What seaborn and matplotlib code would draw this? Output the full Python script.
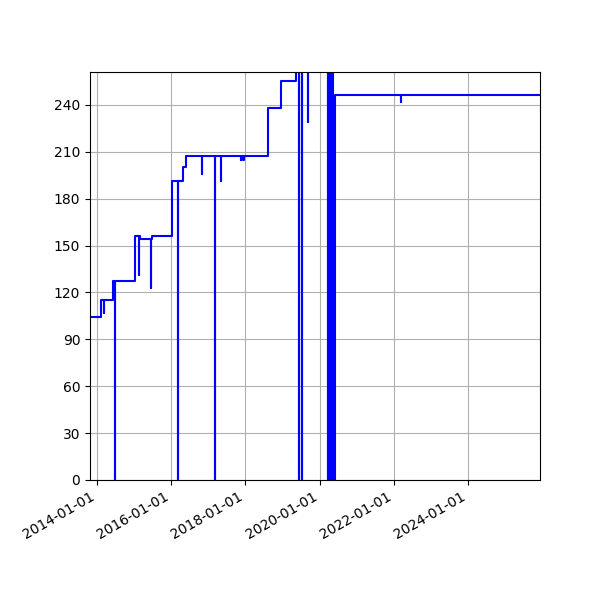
import pandas as pd
import seaborn as sns
import matplotlib.pyplot as plt
import matplotlib.dates as mdates

# change points (value holds until the next date)
dates = ['2013-10-24', '2014-02-09', '2014-03-08', '2014-03-09', '2014-06-07',
         '2014-06-27', '2014-06-28', '2015-01-07', '2015-02-15', '2015-02-16',
         '2015-02-28', '2015-06-14', '2015-06-15', '2015-06-26', '2016-01-06',
         '2016-03-11', '2016-03-12', '2016-04-30', '2016-05-26', '2016-10-28',
         '2016-10-29', '2017-03-08', '2017-03-09', '2017-05-06', '2017-05-07',
         '2017-11-20', '2017-11-22', '2017-12-08', '2017-12-18', '2018-08-14',
         '2018-12-17', '2019-05-14', '2019-06-13', '2019-06-14', '2019-07-12',
         '2019-07-13', '2019-09-06', '2019-09-07', '2020-03-24', '2020-03-25',
         '2020-04-04', '2020-04-05', '2020-04-14', '2020-04-15', '2020-04-24',
         '2020-04-25', '2020-05-04', '2020-05-05', '2020-05-12', '2020-05-31',
         '2022-03-12', '2022-03-13', '2025-12-10']
values = [104, 115, 107, 115, 127,
          0, 127, 156, 131, 156,
          154, 123, 154, 156, 191,
          0, 191, 200, 207, 196,
          207, 0, 207, 191, 207,
          205, 207, 205, 207, 238,
          255, 270, 0, 270, 0,
          270, 229, 270, 0, 270,
          0, 270, 0, 270, 0,
          270, 0, 270, 0, 246,
          242, 246, 246]

df = pd.DataFrame({'date': pd.to_datetime(dates), 'value': values})

fig, ax = plt.subplots(figsize=(6, 6), dpi=100)
sns.lineplot(data=df, x='date', y='value', ax=ax, color='blue',
             drawstyle='steps-post', linewidth=1.5)

ax.set_xlim(pd.Timestamp('2013-10-24'), pd.Timestamp('2025-12-10'))
ax.set_ylim(0, 261)
ax.set_yticks(range(0, 241, 30))
ax.xaxis.set_major_locator(mdates.YearLocator(2))
ax.xaxis.set_major_formatter(mdates.DateFormatter('%Y-%m-%d'))
ax.set_xlabel('')
ax.set_ylabel('')
ax.grid(True)
fig.autofmt_xdate()
fig.subplots_adjust(left=0.15, right=0.9, top=0.88, bottom=0.2)

fig.savefig('out.png')
